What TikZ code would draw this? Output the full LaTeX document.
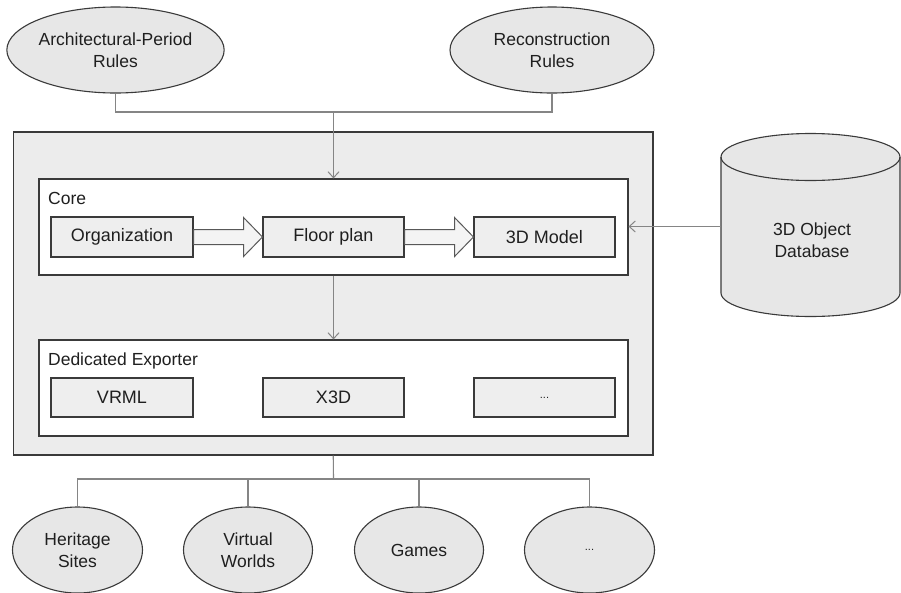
\documentclass[tikz,border=0pt]{standalone}
\usepackage{fontspec}
\setmainfont{Liberation Sans}
\usetikzlibrary{arrows.meta,shapes.geometric,calc}

\definecolor{edgegray}{HTML}{858585}
\definecolor{framegray}{HTML}{3A3A3A}
\definecolor{panelfill}{HTML}{ECECEC}
\definecolor{boxfill}{HTML}{EEEEEE}
\definecolor{ellfill}{HTML}{E7E7E7}
\definecolor{arrowfill}{HTML}{F4F4F4}

\tikzset{
  txt/.style={font=\fontsize{17.5}{22}\selectfont, align=center, text=black!88},
  bubble/.style={ellipse, draw=framegray, fill=ellfill, line width=1.1pt, inner sep=0pt, txt},
  stagebox/.style={rectangle, draw=framegray, fill=boxfill, line width=1.1pt, inner sep=0pt,
    minimum width=141pt, minimum height=40pt, font=\fontsize{18}{22}\selectfont, text=black!88},
  frame/.style={rectangle, draw=framegray, line width=1.1pt, inner sep=0pt},
  link/.style={draw=edgegray, line width=1.1pt},
  linkarrow/.style={link, -{Straight Barb[length=6pt,width=11pt,line width=1pt]}},
  blockarrow/.style={draw=framegray!85, fill=arrowfill, line width=1pt, line join=miter},
  caption/.style={anchor=base west, inner sep=0pt, font=\fontsize{17.5}{21}\selectfont, text=black!88}
}

\begin{document}
\begin{tikzpicture}[x=1pt, y=-1pt]
  \useasboundingbox (0,0) rectangle (901,592);
  \fill[white] (0,0) rectangle (901,592);

  % rule sources
  \node[bubble, minimum width=205pt, minimum height=86pt] (arch) at (115.5,50) {Architectural-Period\\Rules};
  \node[bubble, minimum width=204pt, minimum height=86pt] (recon) at (552,50) {Reconstruction\\Rules};

  % engine panel
  \node[frame, fill=panelfill, minimum width=639.5pt, minimum height=323pt] (engine) at (333.25,293.5) {};
  \node[frame, fill=white, minimum width=589pt, minimum height=96pt] (core) at (333.5,227) {};
  \node[frame, fill=white, minimum width=589pt, minimum height=96pt] (exporter) at (333.5,388) {};
  \node[caption] (corelbl) at ($(core.north west)+(9.5,26)$) {Core};
  \node[caption] (explbl) at ($(exporter.north west)+(9.5,26)$) {Dedicated Exporter};

  % core pipeline
  \node[stagebox, minimum width=142pt] (org) at (122,237) {Organization};
  \node[stagebox] (fp) at (333.5,237) {Floor plan};
  \node[stagebox] (model) at (544.5,237) {3D Model};

  \draw[blockarrow] (org.east) ++(0,-7.5) -- ++(50,0) -- ++(0,-12) -- (fp.west)
    -- ($(org.east)+(50,19.5)$) -- ++(0,-12) -- ($(org.east)+(0,7.5)$) -- cycle;
  \draw[blockarrow] (fp.east) ++(0,-7.5) -- ++(50,0) -- ++(0,-12) -- (model.west)
    -- ($(fp.east)+(50,19.5)$) -- ++(0,-12) -- ($(fp.east)+(0,7.5)$) -- cycle;

  % exporters
  \node[stagebox, minimum width=142pt, minimum height=39pt] (vrml) at (122,397.5) {VRML};
  \node[stagebox, minimum height=39pt] (x3d) at (333.5,397.5) {X3D};
  \node[stagebox, minimum height=39pt] (more) at (544.5,397.5) {\fontsize{11}{13}\selectfont ...};

  % object database cylinder
  \fill[ellfill] (721,157) -- (721,293) arc[start angle=180, end angle=360, x radius=89.5pt, y radius=23.5pt]
    -- (900,157) arc[start angle=0, end angle=180, x radius=89.5pt, y radius=23.5pt] -- cycle;
  \draw[framegray, line width=1.1pt] (721,157) -- (721,293) arc[start angle=180, end angle=360, x radius=89.5pt, y radius=23.5pt]
    -- (900,157);
  \draw[framegray, line width=1.1pt] (810.5,157) ellipse[x radius=89.5pt, y radius=23.5pt];
  \node[txt] (db) at (812,240) {3D Object\\Database};
  \coordinate (dbin) at (721,226.5);

  % applications
  \node[bubble, minimum width=130pt, minimum height=86pt] (heritage) at (77.5,550) {Heritage\\Sites};
  \node[bubble, minimum width=129pt, minimum height=86pt] (virtual) at (248,550) {Virtual\\Worlds};
  \node[bubble, minimum width=129pt, minimum height=86pt] (games) at (419,550) {Games};
  \node[bubble, minimum width=130pt, minimum height=86pt] (etc) at (589.5,550) {\fontsize{11}{13}\selectfont ...};

  % connectors
  \coordinate (jtop) at (333.5,112);
  \coordinate (jbot) at (333.5,479);
  \draw[link] (arch.south) |- (jtop) -| (recon.south);
  \draw[linkarrow] (jtop) -- (core.north);
  \draw[linkarrow] (core.south) -- (exporter.north);
  \draw[linkarrow] (dbin) -- (core.east |- dbin);
  \draw[link] (engine.south) -- (jbot);
  \draw[link] (heritage.north) |- (jbot) -| (etc.north);
  \draw[link] (virtual.north) -- (virtual.north |- jbot);
  \draw[link] (games.north) -- (games.north |- jbot);
\end{tikzpicture}
\end{document}
